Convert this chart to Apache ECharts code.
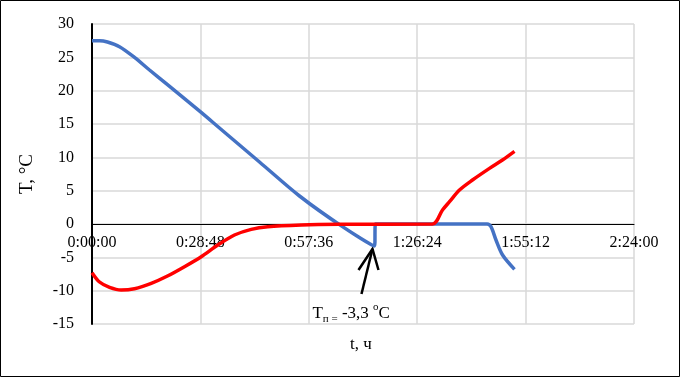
<!DOCTYPE html>
<html>
<head>
<meta charset="utf-8">
<script src="https://cdn.jsdelivr.net/npm/echarts@6/dist/echarts.min.js"></script>
<style>
  html, body { margin: 0; padding: 0; background: #fff; }
  #chart { width: 680px; height: 377px; }
</style>
</head>
<body>
<div id="chart"></div>
<script>
// time in seconds, temperature in °C
const blueData = [
    [0, 27.5], [120, 27.5], [247, 27.3], [438, 26.6], [677, 25.0], [917, 23.1],
    [1203, 20.9], [1745, 16.7], [2032, 14.4], [2670, 9.3], [3308, 4.2],
    [3993, -0.4], [4503, -3.3], [4519, 0], [5400, 0], [6300, 0], [6360, -0.4],
    [6440, -2.4], [6545, -4.65], [6735, -6.8]
];
const redData = [
    [0, -7.3], [120, -8.7], [280, -9.5], [465, -9.9], [677, -9.7], [944, -8.9],
    [1203, -7.8], [1474, -6.4], [1741, -4.9], [2005, -3.15], [2271, -1.65],
    [2538, -0.8], [2802, -0.4], [3335, -0.15], [3945, -0.05], [5428, 0],
    [5587, 2.1], [5699, 3.35], [5858, 5.1], [6065, 6.6], [6336, 8.35],
    [6543, 9.6], [6735, 10.9]
];
const phasePoint = [4503, -3.3];
const xTicks = { min: 0, max: 8640, step: 1728 };
const yTicks = { min: -15, max: 30, step: 5 };

const font = 'Liberation Serif';
const gridTop = 24, gridBottom = 53;
const gridHeight = 377 - gridTop - gridBottom;
// Excel draws the time axis where T = 0
const xAxisOffset = -(0 - yTicks.min) / (yTicks.max - yTicks.min) * gridHeight;

function fmtTime(v) {
    const h = Math.floor(v / 3600);
    const m = Math.floor((v % 3600) / 60);
    const s = Math.round(v % 60);
    const pad = n => (n < 10 ? '0' : '') + n;
    return h + ':' + pad(m) + ':' + pad(s);
}

const chart = echarts.init(document.getElementById('chart'));

chart.setOption({
    animation: false,
    grid: { left: 92, right: 46, top: gridTop, bottom: gridBottom },
    xAxis: {
        type: 'value',
        min: xTicks.min,
        max: xTicks.max,
        interval: xTicks.step,
        offset: xAxisOffset,
        axisLine: { onZero: false, lineStyle: { color: '#000', width: 1 } },
        axisTick: { show: false },
        axisLabel: {
            formatter: fmtTime,
            color: '#000',
            fontFamily: font,
            fontSize: 16,
            margin: 11,
            showMinLabel: true,
            showMaxLabel: true
        },
        splitLine: { show: true, lineStyle: { color: '#d9d9d9', width: 1.5 } }
    },
    yAxis: {
        type: 'value',
        min: yTicks.min,
        max: yTicks.max,
        interval: yTicks.step,
        name: 'T, °C',
        nameLocation: 'middle',
        nameGap: 55,
        nameRotate: 90,
        nameTextStyle: { color: '#000', fontFamily: font, fontSize: 19 },
        axisLine: { show: true, onZero: false, lineStyle: { color: '#000', width: 2 } },
        axisTick: { show: false },
        axisLabel: { color: '#000', fontFamily: font, fontSize: 16, margin: 18 },
        splitLine: { show: true, lineStyle: { color: '#d9d9d9', width: 1.5 } }
    },
    series: [
        {
            type: 'line',
            data: blueData,
            showSymbol: false,
            smooth: 0.3,
            lineStyle: { color: '#4472C4', width: 3.5 },
            z: 2
        },
        {
            type: 'line',
            data: redData,
            showSymbol: false,
            smooth: 0.3,
            lineStyle: { color: '#ff0000', width: 3.5 },
            z: 3
        }
    ]
});

// annotation arrow and label, anchored at the phase-change point
const p = chart.convertToPixel({ gridIndex: 0 }, phasePoint);
const tip = [p[0] - 2, p[1] + 3];
chart.setOption({
    graphic: [
        {
            type: 'rect',
            shape: { x: 0.5, y: 0.5, width: 679, height: 376 },
            style: { fill: null, stroke: '#000', lineWidth: 1 },
            silent: true
        },
        {
            type: 'polyline',
            shape: { points: [[tip[0] - 11, tip[1] + 45], tip] },
            style: { stroke: '#000', lineWidth: 2.5, fill: null }
        },
        {
            type: 'polyline',
            shape: { points: [[tip[0] - 14, tip[1] + 21], tip, [tip[0] + 6, tip[1] + 21]] },
            style: { stroke: '#000', lineWidth: 2.5, fill: null }
        },
        {
            type: 'text',
            left: tip[0] - 60,
            top: tip[1] + 53,
            style: {
                text: '{a|T}{sub|п =}{a| -3,3 }{sup|o}{a|C}',
                rich: {
                    a: { fontFamily: font, fontSize: 17, fill: '#000', lineHeight: 20, verticalAlign: 'bottom' },
                    sub: { fontFamily: font, fontSize: 11, fill: '#000', lineHeight: 20, verticalAlign: 'bottom', padding: [0, 0, -3, 0] },
                    sup: { fontFamily: font, fontSize: 11, fill: '#000', lineHeight: 20, verticalAlign: 'top' }
                }
            }
        },
        {
            type: 'text',
            left: 350,
            top: 336,
            style: { text: 't, ч', fontFamily: font, fontSize: 17, fill: '#000' }
        }
    ]
});
</script>
</body>
</html>
